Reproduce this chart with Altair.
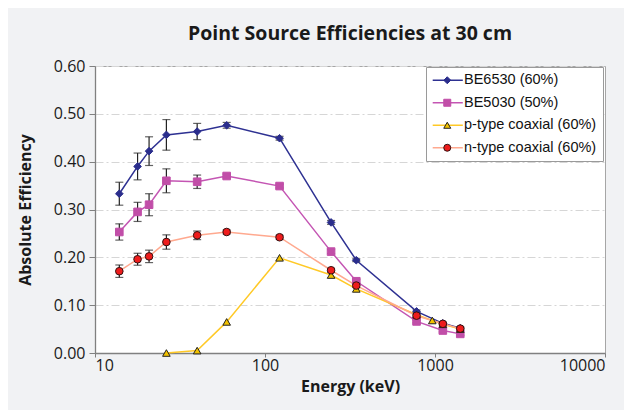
import altair as alt
import pandas as pd

# ---- data ----
series_names = ["BE6530 (60%)", "BE5030 (50%)", "\u00a0p-type coaxial (60%)", "n-type coaxial (60%)"]
marker_keys = ["m1", "m2", "m3", "m4"]

energies_main = [13.9, 17.8, 20.8, 26.3, 39.9, 59.5, 121.8, 244.7, 344.3, 778.9, 1112.1, 1408.0]
be6530 = [0.333, 0.390, 0.422, 0.456, 0.463, 0.476, 0.449, 0.273, 0.194, 0.087, 0.062, 0.052]
be6530_err = [0.024, 0.028, 0.030, 0.032, 0.017, 0.006, 0.004, 0.004, 0.003, 0.003, 0.002, 0.002]
be5030 = [0.253, 0.295, 0.310, 0.360, 0.358, 0.370, 0.349, 0.212, 0.150, 0.066, 0.047, 0.040]
be5030_err = [0.017, 0.020, 0.023, 0.025, 0.014, 0.004, 0.004, 0.004, 0.004, 0.003, 0.003, 0.003]
ntype = [0.171, 0.196, 0.202, 0.232, 0.246, 0.253, 0.242, 0.173, 0.141, 0.078, 0.061, 0.051]
ntype_err = [0.013, 0.0125, 0.013, 0.015, 0.009, 0.004, 0.004, 0.004, 0.004, 0.003, 0.003, 0.003]

energies_p = [26.3, 39.9, 59.5, 121.8, 244.7, 344.3, 778.9, 964.1, 1112.1, 1408.0]
ptype = [0.000, 0.005, 0.065, 0.199, 0.163, 0.134, 0.080, 0.068, 0.060, 0.050]

x_ticks = [10, 100, 1000, 10000]
y_ticks = [0.0, 0.1, 0.2, 0.3, 0.4, 0.5, 0.6]

line_colors = ["#2e3192", "#c455b3", "#ffc926", "#ffa98f"]
marker_fills = ["#2a2d8c", "#c14ea8", "#f2c200", "#ee1c1c"]
marker_strokes = ["#2a2d8c", "#c14ea8", "#222222", "#331111"]
marker_shapes = ["diamond", "square", "triangle-up", "circle"]

rows = []
for name, key, xs, ys, es in [
    (series_names[0], marker_keys[0], energies_main, be6530, be6530_err),
    (series_names[1], marker_keys[1], energies_main, be5030, be5030_err),
    (series_names[2], marker_keys[2], energies_p, ptype, [0.0] * len(ptype)),
    (series_names[3], marker_keys[3], energies_main, ntype, ntype_err),
]:
    for e, v, err in zip(xs, ys, es):
        rows.append({"series": name, "series_m": key, "energy": e, "eff": v,
                     "lo": v - err, "hi": v + err, "err": err})
df = pd.DataFrame(rows)
df_err = df[df["err"] > 0]

FONT = "Open Sans"
XT = "Energy (keV)"
YT = "Absolute Efficiency"

x_enc = alt.X("energy:Q", title=XT,
              scale=alt.Scale(type="log", domain=[10, 10000]),
              axis=alt.Axis(values=x_ticks, format="d", grid=False, tickSize=4,
                            labelPadding=0, titlePadding=5))
y_enc = alt.Y("eff:Q", title=YT,
              scale=alt.Scale(domain=[0, 0.6]),
              axis=alt.Axis(values=y_ticks, format=".2f", grid=True, tickSize=6,
                            labelPadding=4, titlePadding=20))

legend_lines = alt.Legend(
    orient="none", legendX=331, legendY=1, title=None,
    symbolType="M-4.3,0L4.3,0", symbolSize=49, symbolStrokeWidth=1.5,
    fillColor="white", strokeColor="#9a9a9a", padding=6, rowPadding=7.5,
    labelFont="Liberation Sans", labelFontSize=14.5, labelColor="#111111",
    labelOffset=9, symbolOffset=8.5, zindex=1)

legend_marks = alt.Legend(
    orient="none", legendX=331, legendY=1, title=None,
    symbolSize=49, symbolStrokeWidth=1, padding=6, rowPadding=7.5,
    labelFont="Liberation Sans", labelFontSize=14.5, labelExpr="' '",
    labelOffset=9, symbolOffset=8, zindex=2)

base = alt.Chart(df)

lines = base.mark_line(strokeWidth=1.5).encode(
    x=x_enc, y=y_enc,
    stroke=alt.Stroke("series:N", scale=alt.Scale(domain=series_names, range=line_colors),
                      legend=legend_lines),
    order=alt.Order("energy:Q"),
)

err_rule = alt.Chart(df_err).mark_rule(color="#222222", strokeWidth=1.2).encode(
    x=alt.X("energy:Q", title=XT), y=alt.Y("lo:Q", title=YT), y2="hi:Q")
err_lo = alt.Chart(df_err).mark_tick(orient="horizontal", size=8, thickness=1.2, color="#222222").encode(
    x=alt.X("energy:Q", title=XT), y=alt.Y("lo:Q", title=YT))
err_hi = alt.Chart(df_err).mark_tick(orient="horizontal", size=8, thickness=1.2, color="#222222").encode(
    x=alt.X("energy:Q", title=XT), y=alt.Y("hi:Q", title=YT))

markers = base.mark_point(filled=False, size=58, strokeWidth=1, opacity=1).encode(
    x=alt.X("energy:Q", title=XT), y=alt.Y("eff:Q", title=YT),
    color=alt.Color("series_m:N", scale=alt.Scale(domain=marker_keys, range=marker_strokes),
                    legend=legend_marks),
    fill=alt.Fill("series_m:N", scale=alt.Scale(domain=marker_keys, range=marker_fills),
                  legend=legend_marks),
    shape=alt.Shape("series_m:N", scale=alt.Scale(domain=marker_keys, range=marker_shapes),
                    legend=legend_marks),
)

chart = alt.layer(lines, err_rule, err_lo, err_hi, markers).properties(
    width=510, height=287,
    title=alt.TitleParams("Point Source Efficiencies at 30 cm", frame="group",
                          baseline="alphabetic", offset=-1),
    autosize=alt.AutoSizeParams(type="none"),
    padding={"left": 87, "top": 58, "right": 19, "bottom": 57},
    background="#f1f2f4",
).configure_view(
    fill="white", stroke="#a6a6a6", strokeWidth=1
).configure_axis(
    labelFont=FONT, labelFontSize=16, labelColor="#1a1a1a",
    titleFont=FONT, titleFontSize=16, titleFontWeight="bold", titleColor="#1a1a1a",
    domainColor="#808080", domainWidth=1.3, tickColor="#808080",
    gridColor="#d6d6d6", gridDash=[8, 3, 2, 3], gridWidth=1,
).configure_title(
    font=FONT, fontSize=19.5, fontWeight="bold", color="#1a1a1a", anchor="middle"
)

chart.save("out.html", embed_options={"renderer": "svg", "actions": False})
